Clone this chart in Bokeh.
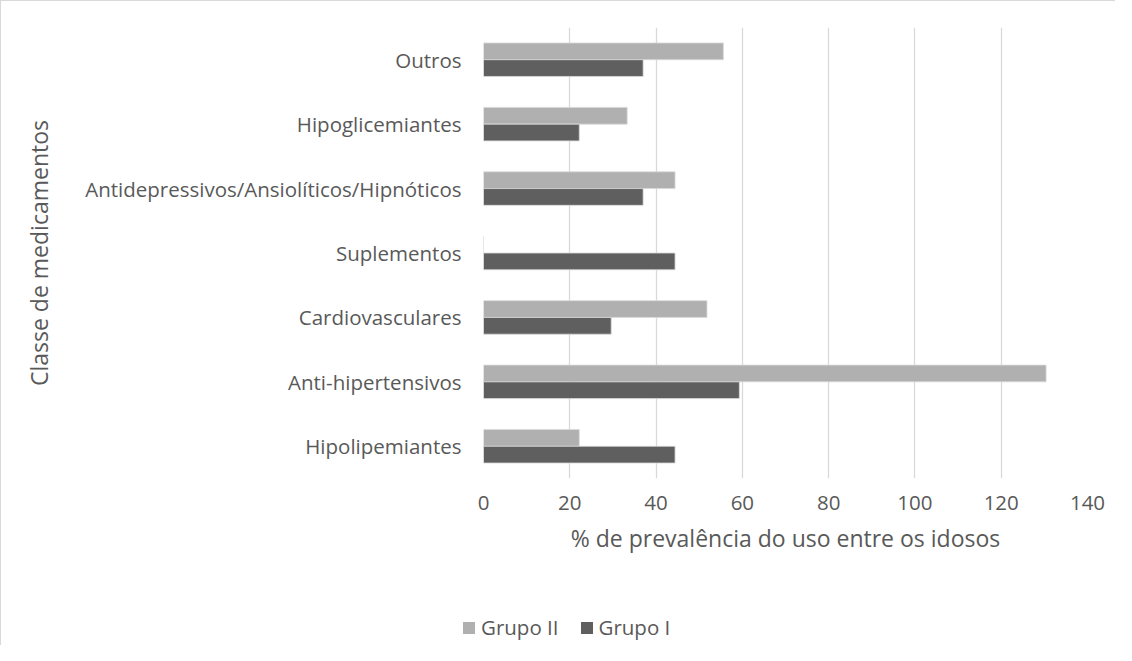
from bokeh.plotting import figure
from bokeh.layouts import column
from bokeh.models import FactorRange, Range1d, FixedTicker, Legend, LegendItem, ColumnDataSource
from bokeh.transform import dodge
from bokeh.embed import file_html
from bokeh.resources import INLINE

categories = ["Outros", "Hipoglicemiantes", "Antidepressivos/Ansiolíticos/Hipnóticos",
              "Suplementos", "Cardiovasculares", "Anti-hipertensivos", "Hipolipemiantes"]
grupo_ii = [55.6, 33.3, 44.4, 0.0, 51.8, 130.4, 22.2]
grupo_i = [37.0, 22.2, 37.0, 44.4, 29.6, 59.3, 44.4]
x_ticks = [0, 20, 40, 60, 80, 100, 120, 140]
series_names = ["Grupo II", "Grupo I"]
series_colors = ["#b0b0b0", "#5f5f5f"]

FONT = "Open Sans"
TXT = "#595959"
W = 1114
H_MAIN, H_LEG = 594, 50

src = ColumnDataSource(dict(cat=categories, g2=grupo_ii, g1=grupo_i))

p = figure(width=W, height=H_MAIN, output_backend="svg", toolbar_location=None,
           y_range=FactorRange(factors=categories[::-1], range_padding=0),
           x_range=Range1d(0, 140))
p.min_border_left = 482
p.min_border_right = W - 1086
p.min_border_top = 26
p.min_border_bottom = H_MAIN - 477
p.outline_line_color = None

r2 = p.hbar(y=dodge("cat", 0.13, range=p.y_range), right="g2", left=0, height=0.26,
            source=src, fill_color=series_colors[0], line_color="#d9d9d9", line_width=0.8)
r1 = p.hbar(y=dodge("cat", -0.13, range=p.y_range), right="g1", left=0, height=0.26,
            source=src, fill_color=series_colors[1], line_color="#d9d9d9", line_width=0.8)

p.xaxis.ticker = FixedTicker(ticks=x_ticks)
p.xgrid.ticker = FixedTicker(ticks=x_ticks)
p.xgrid.grid_line_color = "#d9d9d9"
p.xgrid.grid_line_width = 1.3
p.ygrid.grid_line_color = None

for ax in (p.xaxis[0], p.yaxis[0]):
    ax.axis_line_color = None
    ax.major_tick_line_color = None
    ax.minor_tick_line_color = None
    ax.major_tick_out = 0
    ax.major_label_text_font = FONT
    ax.major_label_text_font_size = "20.5px"
    ax.major_label_text_color = TXT
    ax.axis_label_text_font = FONT
    ax.axis_label_text_font_size = "23px"
    ax.axis_label_text_font_style = "normal"
    ax.axis_label_text_color = TXT

p.xaxis.axis_label = "% de prevalência do uso entre os idosos"
p.xaxis.major_label_standoff = 17
p.xaxis.axis_label_standoff = 9
p.yaxis.axis_label = "Classe de medicamentos"
p.yaxis.major_label_standoff = 22
p.yaxis.axis_label_standoff = 27

# legend strip: same bars, drawn outside its visible x range, only the legend shows
lf = figure(width=W, height=H_LEG, output_backend="svg", toolbar_location=None,
            x_range=Range1d(-2, -1), y_range=FactorRange(factors=categories), min_border=0)
lf.axis.visible = False
lf.grid.visible = False
lf.outline_line_color = None
items = []
for name, col, field in zip(series_names, series_colors, ["g2", "g1"]):
    rr = lf.hbar(y="cat", right=field, left=0, height=0.5, source=src,
                 fill_color=col, line_color=None)
    items.append(LegendItem(label=name, renderers=[rr]))

if "frame_align" in lf.properties():
    lf.frame_align = False
    p.frame_align = False
    leg_x = 460
else:
    leg_x = 0

legend = Legend(items=items, orientation="horizontal", location=(leg_x, 4), margin=0, padding=3,
                label_text_font=FONT, label_text_font_size="20.5px", label_text_color=TXT,
                glyph_width=15, glyph_height=15, spacing=20, label_standoff=5,
                background_fill_alpha=0, border_line_color=None)
lf.add_layout(legend)

layout = column(p, lf, spacing=0,
                styles={"border-left": "1px solid #d9d9d9", "border-top": "1px solid #d9d9d9"})
open("out.html", "w").write(file_html(layout, INLINE))
